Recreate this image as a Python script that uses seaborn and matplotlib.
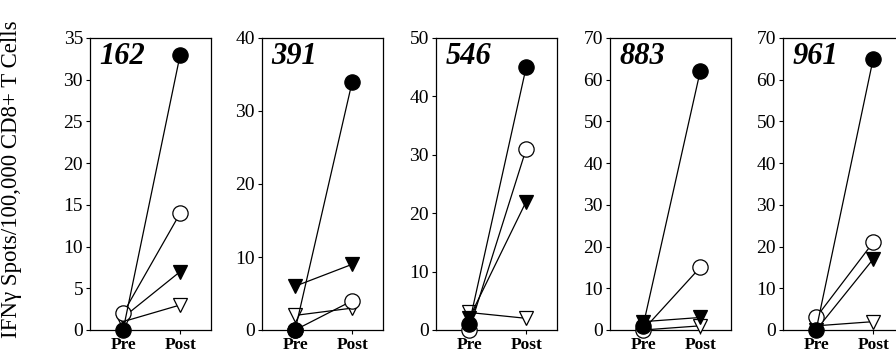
import matplotlib
matplotlib.use("Agg")
import matplotlib.pyplot as plt
import seaborn as sns
import pandas as pd

sns.set_theme(style="ticks")
plt.rcParams['font.family'] = ['Liberation Serif', 'DejaVu Serif']
plt.rcParams['text.color'] = 'black'
plt.rcParams['xtick.color'] = 'black'
plt.rcParams['ytick.color'] = 'black'

timepoints = ["Pre", "Post"]
patients = ["162", "391", "546", "883", "961"]
ymax = [35, 40, 50, 70, 70]
ystep = [5, 10, 10, 10, 10]

# series per patient: [Pre, Post]
filled_circle = [[0, 33], [0, 34], [1, 45], [1, 62], [0, 65]]
open_circle = [[2, 14], [0, 4], [0, 31], [0, 15], [3, 21]]
filled_tri = [[1.5, 7], [6, 9], [2, 22], [2, 3], [0, 17]]
open_tri = [[1, 3], [2, 3], [3, 2], [0, 1], [1, 2]]

series = [
    ("open_tri", open_tri, "v", "white"),
    ("filled_tri", filled_tri, "v", "black"),
    ("open_circle", open_circle, "o", "white"),
    ("filled_circle", filled_circle, "o", "black"),
]

W, H = 896, 358
fig = plt.figure(figsize=(W / 100, H / 100), dpi=100)
lefts = [90, 262, 436, 610, 783]
aw = 121
top, bottom = 38, 330

for i, pid in enumerate(patients):
    ax = fig.add_axes([lefts[i] / W, (H - bottom) / H, aw / W, (bottom - top) / H])
    for name, data, mk, fc in series:
        df = pd.DataFrame({"t": [0, 1], "v": data[i]})
        sns.lineplot(data=df, x="t", y="v", ax=ax, color="black", linewidth=0.9,
                     marker=mk, markersize=11 if mk == "o" else 10,
                     markerfacecolor=fc, markeredgecolor="black", markeredgewidth=0.9,
                     clip_on=False, zorder=3)
    ax.set_xlim(-0.58, 1.54)
    ax.set_ylim(0, ymax[i])
    ax.set_yticks(range(0, ymax[i] + 1, ystep[i]))
    ax.set_xticks([0, 1])
    ax.set_xticklabels(timepoints, fontweight="bold", fontsize=12.5)
    ax.tick_params(axis="y", labelsize=14, length=3, width=0.8, pad=2, colors="black")
    ax.tick_params(axis="x", length=3, width=0.8, pad=2, colors="black")
    ax.set_xlabel("")
    ax.set_ylabel("")
    for s in ax.spines.values():
        s.set_visible(True)
        s.set_linewidth(0.9)
        s.set_color("black")
    ax.text(0.08, 0.985, pid, transform=ax.transAxes, ha="left", va="top",
            fontsize=22, fontweight="bold", fontstyle="italic", color="black")

fig.text(12 / W, 0.5, "IFNγ Spots/100,000 CD8+ T Cells", rotation=90,
         ha="center", va="center", fontsize=16.5, color="black")

fig.savefig("out.png", dpi=100)
